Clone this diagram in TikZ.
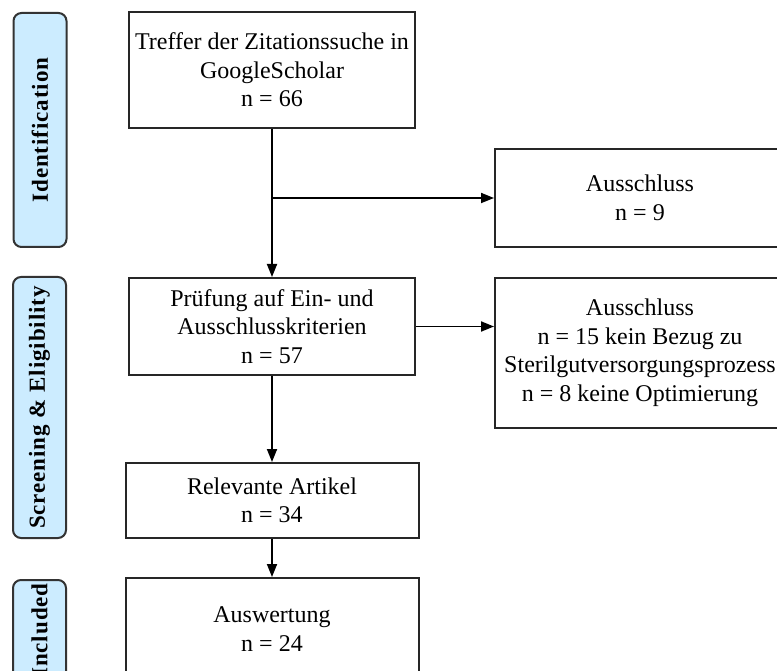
\documentclass[tikz,border=0pt]{standalone}
\usepackage{fontspec}
\setmainfont{Liberation Serif}
\newfontfamily\phasefont[LetterSpace=4]{Liberation Serif}
\usetikzlibrary{arrows.meta}
\definecolor{phasefill}{HTML}{CCECFF}
\definecolor{phaseedge}{HTML}{333333}

\begin{document}
\begin{tikzpicture}[x=1pt,y=-1pt,
  box/.style={draw=black!85, line width=2pt, fill=white, align=center,
    inner sep=0pt, font=\fontsize{24}{28.5}\selectfont},
  phase/.style={draw=phaseedge, line width=2pt, fill=phasefill,
    rounded corners=8pt, inner sep=0pt, minimum width=53pt,
    font=\phasefont\bfseries\fontsize{23}{26}\selectfont},
  flow/.style={line width=1.8pt, -{Triangle[length=13pt,width=10pt]}},
]
\useasboundingbox (0,0) rectangle (777,671);
\clip (0,0) rectangle (777,671);

% phase labels on the left
\node[phase, minimum height=234pt] (pid)  at (40,130)   {\rotatebox{90}{Identification}};
\node[phase, minimum height=261pt] (pscr) at (39.5,407.5) {\rotatebox{90}{Screening \& Eligibility}};
\node[phase, minimum height=100pt] (pinc) at (39.5,630) {\rotatebox{90}{Included}};

% main flow
\node[box, minimum width=286pt, minimum height=116pt] (b1) at (272,70)
  {Treffer der Zitationssuche in\\GoogleScholar\\n = 66};
\node[box, minimum width=286pt, minimum height=97pt] (b2) at (272,326.5)
  {Prüfung auf Ein- und\\Ausschlusskriterien\\n = 57};
\node[box, minimum width=293pt, minimum height=75pt] (b3) at (272,500.5)
  {Relevante Artikel\\n = 34};
\node[box, minimum width=293pt, minimum height=102pt] (b4) at (272,629)
  {Auswertung\\n = 24};

% exclusions
\node[box, minimum width=290pt, minimum height=98pt] (ex1) at (640,198)
  {Ausschluss\\n = 9};
\node[box, minimum width=290pt, minimum height=150pt] (ex2) at (640,353)
  {Ausschluss\\n = 15 kein Bezug zu\\Sterilgutversorgungsprozess\\n = 8 keine Optimierung};

% connectors
\coordinate (split) at (b1.south |- ex1.west);
\draw[flow] (b1.south) -- (b2.north);
\draw[flow] (split) -- (ex1.west);
\draw[flow] (b2.east) -- (b2.east -| ex2.west);
\draw[flow] (b2.south) -- (b3.north);
\draw[flow] (b3.south) -- (b4.north);
\end{tikzpicture}
\end{document}
